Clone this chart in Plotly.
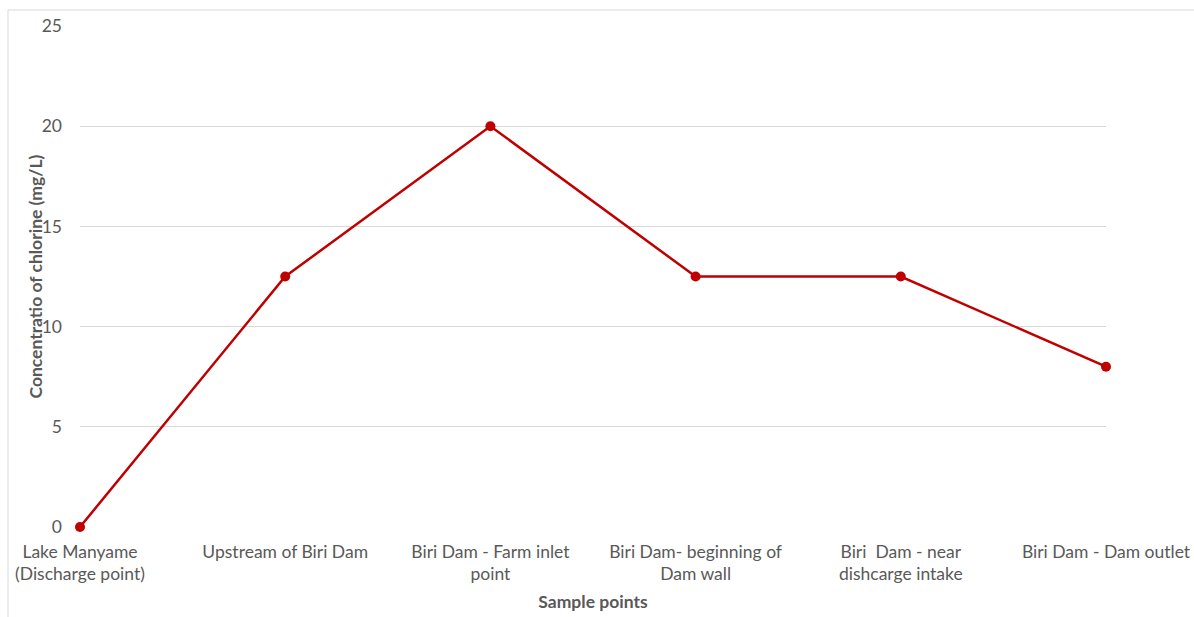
import plotly.graph_objects as go

# Sample locations along the water course and measured chlorine concentration
sample_points = [
    "Lake Manyame<br>(Discharge point)",
    "Upstream of Biri Dam",
    "Biri Dam - Farm inlet<br>point",
    "Biri Dam- beginning of<br>Dam wall",
    "Biri  Dam - near<br>dishcarge intake",
    "Biri Dam - Dam outlet",
]
chlorine_mg_l = [0, 12.5, 20, 12.5, 12.5, 8]
y_ticks = [0, 5, 10, 15, 20, 25]

RED = "#C00000"
TEXT = "#595959"
FONT = "Lato, Open Sans, DejaVu Sans, sans-serif"
SIZE = 17.5

PLOT_LEFT, PLOT_RIGHT, PLOT_TOP, PLOT_BOTTOM = 80, 1106, 26, 527
PLOT_W = PLOT_RIGHT - PLOT_LEFT
PLOT_H = PLOT_BOTTOM - PLOT_TOP

fig = go.Figure(
    go.Scatter(
        x=list(range(len(sample_points))),
        y=chlorine_mg_l,
        mode="lines+markers",
        line=dict(color=RED, width=2.5),
        marker=dict(color=RED, size=10),
        cliponaxis=False,
        hoverinfo="skip",
    )
)

fig.update_layout(
    width=1194,
    height=617,
    margin=dict(l=PLOT_LEFT, r=1194 - PLOT_RIGHT, t=PLOT_TOP, b=617 - PLOT_BOTTOM,
                autoexpand=False),
    paper_bgcolor="white",
    plot_bgcolor="white",
    showlegend=False,
    font=dict(family=FONT, size=SIZE, color=TEXT),
    xaxis=dict(
        range=[0, len(sample_points) - 1],
        tickmode="array",
        tickvals=list(range(len(sample_points))),
        ticktext=sample_points,
        showgrid=False,
        zeroline=False,
        showline=False,
        ticks="",
        automargin=False,
        ticklabelstandoff=12,
        tickfont=dict(family=FONT, size=SIZE, color=TEXT),
        title=dict(
            text="<b>Sample points</b>",
            font=dict(family=FONT, size=SIZE, color=TEXT),
            standoff=12,
        ),
    ),
    yaxis=dict(
        range=[0, 25],
        tickmode="array",
        tickvals=y_ticks,
        showgrid=True,
        gridcolor="#D9D9D9",
        gridwidth=1,
        zeroline=False,
        showline=False,
        ticks="",
        automargin=False,
        ticklabelstandoff=17,
        tickfont=dict(family=FONT, size=SIZE, color=TEXT),
    ),
    annotations=[
        dict(
            text="<b>Concentratio of chlorine (mg/L)</b>",
            textangle=-90,
            xref="paper",
            yref="paper",
            x=(35 - PLOT_LEFT) / PLOT_W,
            y=0.5,
            xanchor="center",
            yanchor="middle",
            showarrow=False,
            font=dict(family=FONT, size=SIZE, color=TEXT),
        )
    ],
    shapes=[
        dict(
            type="rect",
            xref="paper",
            yref="paper",
            x0=(8 - PLOT_LEFT) / PLOT_W,
            x1=1.2,
            y0=-0.3,
            y1=1 + (PLOT_TOP - 10) / PLOT_H,
            line=dict(color="#D9D9D9", width=1),
            layer="below",
        )
    ],
)

fig.write_html("out.html")
